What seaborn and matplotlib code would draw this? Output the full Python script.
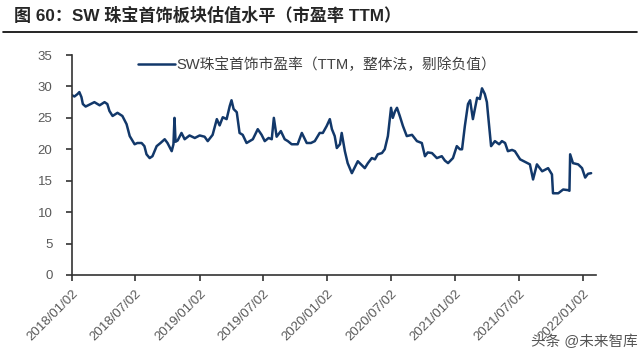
import pandas as pd
import matplotlib
matplotlib.use('Agg')
import matplotlib.pyplot as plt
import matplotlib.dates as mdates
from matplotlib.lines import Line2D
import seaborn as sns

# SW 珠宝首饰 市盈率 (TTM)
dates = ['2018-01-02', '2018-01-09', '2018-01-18', '2018-01-23', '2018-01-29', '2018-02-02',
         '2018-02-10', '2018-02-21', '2018-03-07', '2018-03-22', '2018-04-05', '2018-04-13',
         '2018-04-19', '2018-04-28', '2018-05-12', '2018-05-26', '2018-06-07', '2018-06-16',
         '2018-06-30', '2018-07-08', '2018-07-20', '2018-07-28', '2018-08-03', '2018-08-12',
         '2018-08-20', '2018-09-01', '2018-09-12', '2018-09-24', '2018-10-02', '2018-10-14',
         '2018-10-19', '2018-10-22', '2018-10-25', '2018-10-31', '2018-11-11', '2018-11-20',
         '2018-12-04', '2018-12-19', '2019-01-02', '2019-01-16', '2019-01-25', '2019-02-08',
         '2019-02-20', '2019-02-28', '2019-03-09', '2019-03-20', '2019-03-29', '2019-04-03',
         '2019-04-09', '2019-04-18', '2019-04-26', '2019-05-05', '2019-05-16', '2019-05-25',
         '2019-06-03', '2019-06-17', '2019-06-28', '2019-07-07', '2019-07-18', '2019-07-27',
         '2019-08-02', '2019-08-10', '2019-08-22', '2019-09-02', '2019-09-11', '2019-09-22',
         '2019-10-09', '2019-10-21', '2019-11-04', '2019-11-16', '2019-11-27', '2019-12-11',
         '2019-12-20', '2019-12-31', '2020-01-09', '2020-01-15', '2020-01-23', '2020-01-29',
         '2020-02-07', '2020-02-12', '2020-02-21', '2020-02-29', '2020-03-12', '2020-03-21',
         '2020-03-29', '2020-04-07', '2020-04-18', '2020-04-27', '2020-05-08', '2020-05-17',
         '2020-05-25', '2020-06-06', '2020-06-14', '2020-06-23', '2020-07-02', '2020-07-07',
         '2020-07-13', '2020-07-19', '2020-07-27', '2020-08-05', '2020-08-16', '2020-08-31',
         '2020-09-14', '2020-09-28', '2020-10-07', '2020-10-15', '2020-10-27', '2020-11-10',
         '2020-11-24', '2020-12-03', '2020-12-12', '2020-12-26', '2021-01-06', '2021-01-15',
         '2021-01-21', '2021-01-29', '2021-02-07', '2021-02-13', '2021-02-21', '2021-03-05',
         '2021-03-13', '2021-03-19', '2021-03-27', '2021-04-02', '2021-04-05', '2021-04-14',
         '2021-04-25', '2021-05-07', '2021-05-15', '2021-05-24', '2021-06-01', '2021-06-13',
         '2021-06-21', '2021-07-06', '2021-07-20', '2021-08-03', '2021-08-12', '2021-08-23',
         '2021-09-07', '2021-09-24', '2021-10-05', '2021-10-08', '2021-10-23', '2021-11-06',
         '2021-11-20', '2021-11-24', '2021-11-26', '2021-12-04', '2021-12-19', '2021-12-30',
         '2022-01-08', '2022-01-16', '2022-01-25']
pe = [28.6, 28.4, 28.8, 29.1, 28.3, 27.2,
      26.8, 27.1, 27.5, 27.0, 27.5, 27.2,
      26.1, 25.3, 25.8, 25.3, 24.0, 22.1,
      20.8, 21.0, 21.0, 20.5, 19.2, 18.6,
      18.9, 20.5, 21.0, 21.6, 21.0, 19.7,
      20.8, 25.0, 21.2, 21.4, 22.6, 21.6,
      22.2, 21.8, 22.2, 22.0, 21.3, 22.3,
      24.8, 23.8, 25.1, 24.8, 26.9, 27.8,
      26.4, 25.9, 22.6, 22.3, 21.0, 21.3,
      21.6, 23.2, 22.3, 21.3, 21.8, 21.6,
      25.0, 22.0, 22.9, 21.6, 21.3, 20.8,
      20.8, 22.6, 21.0, 21.0, 21.3, 22.6,
      22.6, 23.7, 24.8, 23.2, 22.1, 20.2,
      20.8, 22.6, 19.7, 17.8, 16.2, 17.2,
      18.1, 17.6, 17.0, 17.8, 18.6, 18.4,
      19.2, 19.4, 20.0, 22.1, 26.6, 25.0,
      26.0, 26.6, 25.3, 23.7, 22.1, 22.3,
      21.3, 21.0, 18.9, 19.5, 19.4, 18.6,
      18.9, 18.2, 17.8, 18.6, 20.5, 20.0,
      20.0, 23.7, 27.2, 27.8, 24.8, 28.2,
      28.0, 29.7, 28.8, 27.5, 25.7, 20.5,
      21.3, 20.8, 21.3, 21.0, 19.7, 19.9,
      19.7, 18.4, 18.0, 17.6, 15.2, 17.6,
      16.5, 17.0, 16.0, 13.0, 13.0, 13.6,
      13.5, 13.4, 19.2, 17.8, 17.6, 17.0,
      15.5, 16.1, 16.2]

tick_dates = ['2018-01-02', '2018-07-02', '2019-01-02', '2019-07-02', '2020-01-02',
              '2020-07-02', '2021-01-02', '2021-07-02', '2022-01-02']
series_name = 'SW珠宝首饰市盈率（TTM，整体法，剔除负值）'
title = '图 60：SW 珠宝首饰板块估值水平（市盈率 TTM）'

df = pd.DataFrame({'date': pd.to_datetime(dates), 'pe': pe})

sns.set_style('ticks')
plt.rcParams['font.family'] = ['Liberation Sans', 'Noto Sans CJK SC', 'DejaVu Sans']

fig = plt.figure(figsize=(6.4, 3.54), dpi=100)
ax = fig.add_axes([0.1125, 0.2232, 0.8188, 0.6214])

sns.lineplot(data=df, x='date', y='pe', ax=ax, color='#12386a', linewidth=1.8,
             label=series_name)

ax.set_ylim(0, 35)
ax.set_yticks(range(0, 36, 5))
ax.set_xlim(pd.Timestamp('2018-01-02'), pd.Timestamp('2022-02-08'))
ax.set_xticks(pd.to_datetime(tick_dates))
ax.xaxis.set_major_formatter(mdates.DateFormatter('%Y/%m/%d'))
ax.set_xlabel('')
ax.set_ylabel('')

for s in ['top', 'right']:
    ax.spines[s].set_visible(False)
for s in ['left', 'bottom']:
    ax.spines[s].set_color('#333333')
    ax.spines[s].set_linewidth(1.2)
ax.tick_params(axis='both', colors='#333333', labelcolor='#595959', labelsize=9.5,
               length=4, width=1.2, direction='out')
ax.tick_params(axis='y', pad=10)
ax.tick_params(axis='x', pad=5)
plt.setp(ax.get_xticklabels(), rotation=45, ha='right', rotation_mode='anchor')

leg = ax.legend(loc='upper left', bbox_to_anchor=(0.1, 1.05), frameon=False,
                fontsize=10.6, handlelength=2.55, handletextpad=0.1)
for t in leg.get_texts():
    t.set_color('#404040')

fig.text(0.022, 1 - 15 / 354, title, fontsize=12.3, fontweight='bold', va='center', ha='left')
fig.add_artist(Line2D([0.005, 0.995], [1 - 32 / 354] * 2, color='black', linewidth=1.2))
fig.text(0.997, 1 - 342 / 354, '头条 @未来智库', fontsize=10.5, color='#555555',
         va='center', ha='right')

fig.savefig('out.png', dpi=100)
